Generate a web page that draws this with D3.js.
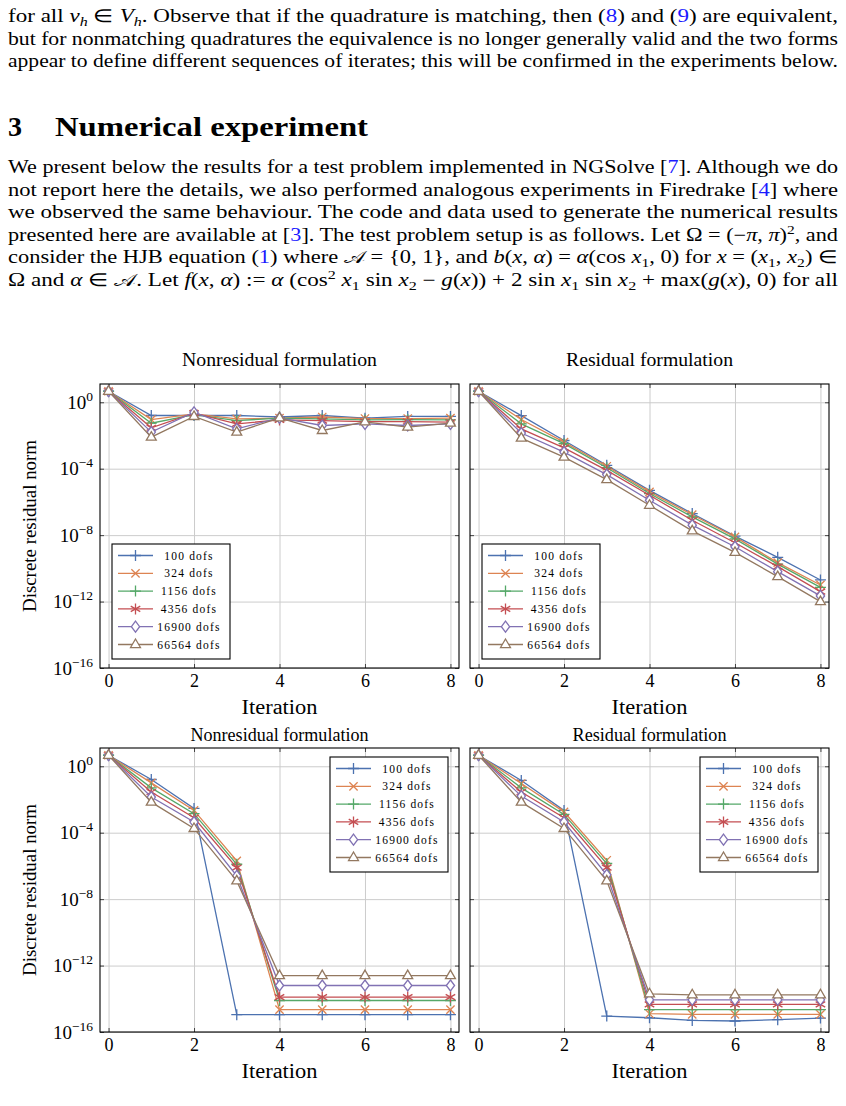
<!DOCTYPE html>
<html lang="en">
<head>
<meta charset="UTF-8">
<title>Numerical experiment</title>
<script src="https://cdn.jsdelivr.net/npm/d3@7"></script>
<style>
    body { margin: 0; background: #fff; }
    text { font-family: "Liberation Serif", "Times New Roman", serif; fill: #000; }
    .body { font-size: 18px; }
    .grid line { stroke: #cccccc; }
    .grid path, .ticks path { display: none; }
</style>
</head>
<body>
<svg id="page" width="846" height="1106"></svg>
<script>
    // ---- data ----
    const iterations = [0, 1, 2, 3, 4, 5, 6, 7, 8];
    const seriesNames = ["100 dofs", "324 dofs", "1156 dofs", "4356 dofs", "16900 dofs", "66564 dofs"];
    const seriesColors = ["#4c72b0", "#dd8452", "#55a868", "#c44e52", "#8172b3", "#937860"];
    const seriesMarks = ["plus", "x", "plus", "star", "diamond", "triangle"];
    const xTicks = [0, 2, 4, 6, 8];
    const yTicks = [1e0, 1e-4, 1e-8, 1e-12, 1e-16];

    // top row, nonresidual
    const topNonresidual = [
        [4.6, 0.16, 0.16, 0.16, 0.13, 0.16, 0.11, 0.14, 0.14],
        [4.6, 0.091, 0.2, 0.1, 0.11, 0.13, 0.105, 0.105, 0.11],
        [4.6, 0.055, 0.18, 0.079, 0.11, 0.1, 0.087, 0.091, 0.087],
        [4.6, 0.029, 0.22, 0.05, 0.087, 0.079, 0.069, 0.069, 0.063],
        [4.6, 0.016, 0.25, 0.025, 0.115, 0.04, 0.05, 0.04, 0.05],
        [4.6, 0.0079, 0.14, 0.016, 0.115, 0.02, 0.066, 0.032, 0.055]
    ];
    // top row, residual
    const topResidual = [
        [4.6, 0.158, 5.0e-3, 1.6e-4, 5.0e-6, 2.0e-7, 8.7e-9, 4.6e-10, 2.0e-11],
        [4.6, 0.091, 4.0e-3, 1.4e-4, 4.0e-6, 1.7e-7, 7.9e-9, 2.2e-10, 1.0e-11],
        [4.6, 0.05, 3.2e-3, 1.15e-4, 3.2e-6, 1.26e-7, 6.0e-9, 1.8e-10, 7.2e-12],
        [4.6, 0.025, 1.8e-3, 7.9e-5, 2.5e-6, 7.9e-8, 3.5e-9, 1.26e-10, 4.0e-12],
        [4.6, 0.014, 1.0e-3, 4.4e-5, 1.26e-6, 4.0e-8, 2.0e-9, 6.3e-11, 2.2e-12],
        [4.6, 6.9e-3, 5.0e-4, 2.2e-5, 6.3e-7, 1.8e-8, 9.1e-10, 3.2e-11, 1.0e-12]
    ];
    // bottom row, nonresidual
    const bottomNonresidual = [
        [4.6, 0.16, 2.9e-3, 1.1e-15, 1.1e-15, 1.1e-15, 1.1e-15, 1.1e-15, 1.1e-15],
        [4.6, 0.1, 2.2e-3, 2.0e-6, 2.2e-15, 2.2e-15, 2.2e-15, 2.2e-15, 2.2e-15],
        [4.6, 0.05, 1.4e-3, 1.26e-6, 7.9e-15, 7.9e-15, 7.9e-15, 7.9e-15, 7.9e-15],
        [4.6, 0.028, 7.9e-4, 7.9e-7, 1.26e-14, 1.26e-14, 1.26e-14, 1.26e-14, 1.26e-14],
        [4.6, 0.014, 4.4e-4, 2.5e-7, 6.3e-14, 6.3e-14, 6.3e-14, 6.3e-14, 6.3e-14],
        [4.6, 6.9e-3, 1.8e-4, 1.26e-7, 2.5e-13, 2.5e-13, 2.5e-13, 2.5e-13, 2.5e-13]
    ];
    // bottom row, residual
    const bottomResidual = [
        [4.6, 0.14, 2.2e-3, 9.1e-16, 7.2e-16, 5.0e-16, 4.6e-16, 5.5e-16, 6.9e-16],
        [4.6, 0.091, 1.8e-3, 2.2e-6, 1.26e-15, 1.15e-15, 1.15e-15, 1.15e-15, 1.15e-15],
        [4.6, 0.05, 1.26e-3, 1.4e-6, 2.2e-15, 2.2e-15, 2.2e-15, 2.2e-15, 2.2e-15],
        [4.6, 0.028, 7.9e-4, 7.9e-7, 4.6e-15, 4.6e-15, 4.6e-15, 4.6e-15, 4.6e-15],
        [4.6, 0.016, 4.4e-4, 2.9e-7, 8.7e-15, 8.7e-15, 8.7e-15, 8.7e-15, 8.7e-15],
        [4.6, 6.9e-3, 1.8e-4, 1.26e-7, 2.0e-14, 1.74e-14, 1.74e-14, 1.74e-14, 1.74e-14]
    ];

    const svg = d3.select("#page");

    // ---- running text ----
    const I = t => ({ t, i: true });
    const sub = t => ({ t, sub: true });
    const subI = t => ({ t, sub: true, i: true });
    const sup = t => ({ t, sup: true });
    const ref = t => ({ t, ref: true });
    const CAL = { t: "𝒜" };

    function textLine(x, y, len, parts) {
        const t = svg.append("text").attr("class", "body").attr("x", x).attr("y", y);
        if (len) t.attr("textLength", len).attr("lengthAdjust", "spacingAndGlyphs");
        let shift = 0;
        parts.forEach(p => {
            if (typeof p === "string") p = { t: p };
            const target = p.sub ? 4 : p.sup ? -7 : 0;
            const s = t.append("tspan").text(p.t);
            if (target !== shift) { s.attr("dy", target - shift); shift = target; }
            if (p.sub || p.sup) s.attr("font-size", 12.5);
            if (p.i) s.attr("font-style", "italic");
            if (p.ref) s.style("fill", "#1a1aff");
        });
        return t;
    }

    const W_TEXT = 830;
    textLine(8, 22, W_TEXT, ["for all ", I("v"), subI("h"), " ∈ ", I("V"), subI("h"),
        ".  Observe that if the quadrature is matching, then (", ref("8"), ") and (", ref("9"), ") are equivalent,"]);
    textLine(8, 44.5, W_TEXT, ["but for nonmatching quadratures the equivalence is no longer generally valid and the two forms"]);
    textLine(8, 67, W_TEXT, ["appear to define different sequences of iterates; this will be confirmed in the experiments below."]);

    svg.append("text").attr("x", 8).attr("y", 136).attr("font-size", 28).attr("font-weight", "bold").text("3");
    svg.append("text").attr("x", 55).attr("y", 136).attr("font-size", 28).attr("font-weight", "bold")
        .attr("textLength", 313).attr("lengthAdjust", "spacingAndGlyphs").text("Numerical experiment");

    textLine(8, 173, W_TEXT, ["We present below the results for a test problem implemented in NGSolve [", ref("7"), "].  Although we do"]);
    textLine(8, 195.6, W_TEXT, ["not report here the details, we also performed analogous experiments in Firedrake [", ref("4"), "] where"]);
    textLine(8, 218.2, W_TEXT, ["we observed the same behaviour.  The code and data used to generate the numerical results"]);
    textLine(8, 240.8, W_TEXT, ["presented here are available at [", ref("3"), "]. The test problem setup is as follows. Let Ω = (−", I("π"), ", ", I("π"), ")", sup("2"), ", and"]);
    textLine(8, 263.4, W_TEXT, ["consider the HJB equation (", ref("1"), ") where ", CAL, " = {0, 1}, and ", I("b"), "(", I("x"), ", ", I("α"), ") = ", I("α"),
        "(cos ", I("x"), sub("1"), ", 0) for ", I("x"), " = (", I("x"), sub("1"), ", ", I("x"), sub("2"), ") ∈"]);
    textLine(8, 286, W_TEXT, ["Ω and ", I("α"), " ∈ ", CAL, ".  Let ", I("f"), "(", I("x"), ", ", I("α"), ") := ", I("α"), " (cos", sup("2"), " ", I("x"), sub("1"),
        " sin ", I("x"), sub("2"), " − ", I("g"), "(", I("x"), ")) + 2 sin ", I("x"), sub("1"), " sin ", I("x"), sub("2"), " + max(", I("g"), "(", I("x"), "), 0) for all"]);

    // ---- charts ----
    const W = 359, H = 284;
    const x = d3.scaleLinear().domain([-0.2, 8.2]).range([0, W]);
    const y = d3.scaleLog().domain([1e-16, Math.pow(10, 1.1)]).range([H, 0]);
    const line = d3.line().x((d, i) => x(iterations[i])).y(d => y(d));

    function markPath(type) {
        const r = 5.5;
        if (type === "plus") return `M${-r},0H${r}M0,${-r}V${r}`;
        if (type === "x") { const a = r * 0.75; return `M${-a},${-a}L${a},${a}M${-a},${a}L${a},${-a}`; }
        if (type === "star") { const c = r * 0.866, s = r * 0.5; return `M0,${-r}V${r}M${-c},${-s}L${c},${s}M${-c},${s}L${c},${-s}`; }
        if (type === "diamond") return `M0,${-r}L${r * 0.75},0L0,${r}L${-r * 0.75},0Z`;
        return `M0,${-r}L${r * 0.9},${r * 0.55}L${-r * 0.9},${r * 0.55}Z`;
    }

    const panels = [
        { title: "Nonresidual formulation", values: topNonresidual, left: 100, top: 384, titleLen: 195, titleY: -18, yLabels: true, legend: [12, 160] },
        { title: "Residual formulation", values: topResidual, left: 470, top: 384, titleLen: 167, titleY: -18, yLabels: false, legend: [12, 160] },
        { title: "Nonresidual formulation", values: bottomNonresidual, left: 100, top: 748, titleLen: 178, titleY: -7, yLabels: true, legend: [230, 9] },
        { title: "Residual formulation", values: bottomResidual, left: 470, top: 748, titleLen: 154, titleY: -7, yLabels: false, legend: [230, 9] }
    ];

    panels.forEach(p => {
        const g = svg.append("g").attr("transform", `translate(${p.left},${p.top})`);

        // grid
        g.append("g").attr("class", "grid").attr("transform", `translate(0,${H})`)
            .call(d3.axisBottom(x).tickValues(xTicks).tickSize(-H).tickFormat(""));
        g.append("g").attr("class", "grid")
            .call(d3.axisLeft(y).tickValues(yTicks).tickSize(-W).tickFormat(""));

        // ticks on all four sides
        const ax = g.append("g").attr("class", "ticks").attr("transform", `translate(0,${H})`)
            .call(d3.axisBottom(x).tickValues(xTicks).tickSize(-4).tickPadding(6).tickFormat(d3.format("d")))
            .attr("font-family", null).attr("color", "#444");
        ax.selectAll("text").style("fill", "#000").style("font-size", "18px");
        g.append("g").attr("class", "ticks").call(d3.axisTop(x).tickValues(xTicks).tickSize(-4).tickFormat(""))
            .attr("color", "#444");
        g.append("g").attr("class", "ticks").attr("transform", `translate(${W},0)`)
            .call(d3.axisRight(y).tickValues(yTicks).tickSize(-4).tickFormat("")).attr("color", "#444");
        const ay = g.append("g").attr("class", "ticks")
            .call(d3.axisLeft(y).tickValues(yTicks).tickSize(-4).tickPadding(7).tickFormat(""))
            .attr("font-family", null).attr("color", "#444");
        if (p.yLabels) {
            ay.selectAll(".tick text").each(function (d) {
                const e = Math.round(Math.log10(d));
                const t = d3.select(this).style("fill", "#000").style("font-size", "19px");
                t.append("tspan").text("10");
                t.append("tspan").attr("dy", -8).style("font-size", "13.5px").text(e === 0 ? "0" : "−" + Math.abs(e));
            });
            g.append("text").attr("transform", `translate(-64,${H / 2}) rotate(-90)`)
                .attr("text-anchor", "middle").style("font-size", "19px")
                .attr("textLength", 172).attr("lengthAdjust", "spacingAndGlyphs")
                .text("Discrete residual norm");
        }

        // series
        p.values.forEach((vals, k) => {
            g.append("path").attr("d", line(vals)).attr("fill", "none")
                .attr("stroke", seriesColors[k]).attr("stroke-width", 1.3);
            g.selectAll(null).data(vals).join("path")
                .attr("transform", (d, i) => `translate(${x(iterations[i])},${y(d)})`)
                .attr("d", markPath(seriesMarks[k]))
                .attr("fill", seriesMarks[k] === "diamond" || seriesMarks[k] === "triangle" ? "#fff" : "none")
                .attr("stroke", seriesColors[k]).attr("stroke-width", 1.3);
        });

        // frame
        g.append("rect").attr("width", W).attr("height", H).attr("fill", "none").attr("stroke", "#000").attr("stroke-width", 1.1);

        // titles
        g.append("text").attr("x", W / 2).attr("y", p.titleY).attr("text-anchor", "middle").style("font-size", "18px")
            .attr("textLength", p.titleLen).attr("lengthAdjust", "spacingAndGlyphs").text(p.title);
        g.append("text").attr("x", (x(0) + x(8)) / 2).attr("y", H + 46).attr("text-anchor", "middle").style("font-size", "20px")
            .attr("textLength", 76).attr("lengthAdjust", "spacingAndGlyphs").text("Iteration");

        // legend
        const lg = g.append("g").attr("transform", `translate(${p.legend[0]},${p.legend[1]})`);
        lg.append("rect").attr("width", 118).attr("height", 115).attr("fill", "#fff").attr("stroke", "#000").attr("stroke-width", 1.1);
        const row = lg.selectAll("g.row").data(seriesNames).join("g").attr("class", "row")
            .attr("transform", (d, i) => `translate(0,${11.5 + 17.8 * i})`);
        row.append("line").attr("x1", 6).attr("x2", 41).attr("stroke", (d, i) => seriesColors[i]).attr("stroke-width", 1.3);
        row.append("path").attr("transform", "translate(23.5,0)")
            .attr("d", (d, i) => markPath(seriesMarks[i]))
            .attr("fill", (d, i) => seriesMarks[i] === "diamond" || seriesMarks[i] === "triangle" ? "#fff" : "none")
            .attr("stroke", (d, i) => seriesColors[i]).attr("stroke-width", 1.3);
        row.append("text").attr("x", 77).attr("y", 4).attr("text-anchor", "middle")
            .style("font-size", "11.5px").attr("letter-spacing", 1.2).text(d => d);
    });
</script>
</body>
</html>
